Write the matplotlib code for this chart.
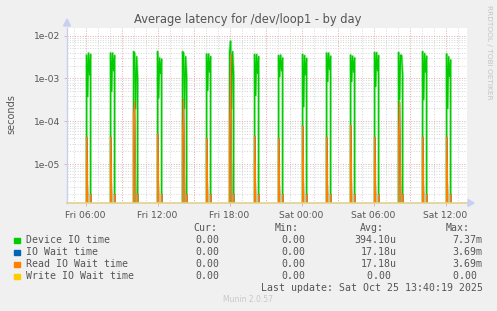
import matplotlib
matplotlib.use("Agg")
import matplotlib.pyplot as plt
import numpy as np

# ---------------- data ----------------
# burst start times (hours since Fri 00:00), 5-minute samples
burst_starts = [4 + 20/60, 6 + 5/60, 8 + 5/60, 10.0, 12.0, 14 + 5/60, 16 + 5/60, 18.0,
                20 + 5/60, 22 + 5/60, 24 + 5/60, 26 + 5/60, 28 + 5/60, 30 + 5/60,
                32 + 5/60, 34 + 5/60, 36 + 5/60]
device_io = [
    [9e-5],
    [3.5e-3, 3.8e-4, 3.9e-3, 1.2e-3, 3.6e-3],
    [3.9e-3, 5.0e-4, 3.9e-3, 1.5e-3, 3.4e-3],
    [4.2e-3, 3.9e-3, 2.0e-4, 3.2e-3, 1.0e-3],
    [4.2e-3, 3.5e-4, 3.0e-3, 1.3e-3, 2.8e-3],
    [4.2e-3, 3.9e-3, 2.0e-4, 3.2e-3, 1.1e-3],
    [3.7e-3, 5.3e-4, 3.7e-3, 1.4e-3, 3.2e-3],
    [3.9e-3, 7.37e-3, 2.0e-4, 4.2e-3, 1.2e-3],
    [3.6e-3, 4.0e-4, 3.6e-3, 1.3e-3, 3.2e-3],
    [3.4e-3, 1.1e-3, 3.5e-3, 1.5e-3, 3.0e-3],
    [3.6e-3, 2.2e-4, 3.4e-3, 1.2e-3, 2.9e-3],
    [3.9e-3, 8.5e-4, 3.9e-3, 1.6e-3, 3.3e-3],
    [3.5e-3, 8.5e-4, 3.3e-3, 1.4e-3, 3.0e-3],
    [4.0e-3, 6.5e-4, 4.0e-3, 1.5e-3, 3.4e-3],
    [4.0e-3, 3.2e-4, 3.5e-3, 3.4e-3, 1.2e-3],
    [4.2e-3, 3.2e-4, 3.8e-3, 1.4e-3, 3.3e-3],
    [3.7e-3, 2.0e-4, 3.2e-3, 1.1e-3, 2.7e-3],
]
read_io_wait = [
    [1.2e-5],
    [4.3e-5, 2e-6, 0, 0, 2e-6],
    [4.3e-5, 2e-6, 0, 0, 2e-6],
    [1.5e-4, 2.9e-4, 2e-6, 0, 2e-6],
    [5.0e-5, 2e-6, 0, 0, 2e-6],
    [5.0e-5, 3.2e-4, 2e-6, 0, 2e-6],
    [4.0e-5, 2e-6, 0, 0, 2e-6],
    [4.5e-5, 3.69e-3, 2.7e-6, 0, 2e-6],
    [4.5e-5, 2e-6, 0, 0, 2e-6],
    [4.0e-5, 2e-6, 0, 0, 2e-6],
    [7.7e-5, 2e-6, 0, 0, 2e-6],
    [4.3e-5, 2e-6, 0, 0, 2e-6],
    [8.0e-5, 2e-6, 0, 0, 2e-6],
    [4.3e-5, 2e-6, 0, 0, 2e-6],
    [4.3e-5, 2.8e-4, 2e-6, 0, 2e-6],
    [4.3e-5, 2e-6, 0, 0, 2e-6],
    [4.3e-5, 2e-6, 0, 0, 2e-6],
]
io_wait = read_io_wait  # identical values
x_ticks = [6, 12, 18, 24, 30, 36]
x_labels = ["Fri 06:00", "Fri 12:00", "Fri 18:00", "Sat 00:00", "Sat 06:00", "Sat 12:00"]
y_ticks = [1e-2, 1e-3, 1e-4, 1e-5]
y_labels = ["1e-02", "1e-03", "1e-04", "1e-05"]

legend_names = ["Device IO time", "IO Wait time", "Read IO Wait time", "Write IO Wait time"]
legend_colors = ["#00CC00", "#0066B3", "#FF8000", "#FFCC00"]
cur_vals = ["0.00", "0.00", "0.00", "0.00"]
min_vals = ["0.00", "0.00", "0.00", "0.00"]
avg_vals = ["394.10u", "17.18u", "17.18u", "0.00 "]
max_vals = ["7.37m", "3.69m", "3.69m", "0.00 "]

XMIN, XMAX = 4 + 27/60, 37 + 47/60
STEP = 5 / 60


def series(bursts):
    t, v = [XMIN - 1.0], [0.0]
    for s, vals in zip(burst_starts, bursts):
        t.append(s - STEP); v.append(0.0)
        for k, val in enumerate(vals):
            t.append(s + k * STEP); v.append(val)
        t.append(s + len(vals) * STEP); v.append(0.0)
    t.append(XMAX + 1); v.append(0.0)
    return np.array(t), np.array(v)


W, H = 497, 311
fig = plt.figure(figsize=(W / 100, H / 100), dpi=100, facecolor="#F0F0F0")
L, R, T, B = 67, 467, 28, 203
ax = fig.add_axes([L / W, 1 - B / H, (R - L) / W, (B - T) / H])
ax.set_facecolor("white")
ax.set_yscale("log", nonpositive="clip")
ax.set_xlim(XMIN, XMAX)
ax.set_ylim(1.25e-6, 1.5e-2)

# grid
for hr in range(int(np.ceil(XMIN)), int(XMAX) + 1):
    major = hr % 3 == 0
    ax.axvline(hr, color="#E4A8A8" if major else "#D6D6D6", lw=0.7,
               ls=(0, (1, 1.6)), zorder=0.5)
for e in range(-6, -1):
    for k in range(1, 10):
        yv = k * 10.0 ** e
        if 1.25e-6 < yv < 1.5e-2:
            ax.axhline(yv, color="#E4A8A8" if k == 1 else "#D6D6D6", lw=0.7,
                       ls=(0, (1, 1.6)), zorder=0.5)

for data, col, halo in [(device_io, legend_colors[0], 0.35),
                        (io_wait, legend_colors[1], 0.0),
                        (read_io_wait, legend_colors[2], 0.18)]:
    tt, vv = series(data)
    if halo:
        ax.plot(tt, vv, color=col, lw=2.0, alpha=halo, zorder=1.5)
    ax.plot(tt, vv, color=col, lw=0.9, zorder=2)

for s in ["top", "right"]:
    ax.spines[s].set_visible(False)
ax.spines["left"].set_color("#C8CFF0")
ax.spines["bottom"].set_color("#E2D28A")
ax.spines["left"].set_linewidth(1.0)
ax.spines["bottom"].set_linewidth(1.2)

ax.set_xticks(x_ticks)
ax.set_xticklabels(x_labels)
ax.set_yticks(y_ticks)
ax.set_yticklabels(y_labels)
ax.minorticks_off()
ax.tick_params(axis="both", length=2, width=0.6, color="#E4A8A8", labelsize=6.6,
               labelcolor="#555555", pad=3)
ax.tick_params(axis="x", pad=3.5)

# arrows
fig.patches.append(matplotlib.patches.Polygon(
    [[(L - 3.5) / W, 1 - 26 / H], [(L + 3.5) / W, 1 - 26 / H], [L / W, 1 - 19 / H]],
    closed=True, transform=fig.transFigure, color="#C8CFF0"))
fig.patches.append(matplotlib.patches.Polygon(
    [[(R + 1) / W, 1 - (B - 3.5) / H], [(R + 1) / W, 1 - (B + 3.5) / H], [(R + 7) / W, 1 - B / H]],
    closed=True, transform=fig.transFigure, color="#C8CFF0"))


def ft(x, y, s, **kw):
    fig.text(x / W, 1 - y / H, s, **kw)


ft(248, 19, "Average latency for /dev/loop1 - by day", ha="center", va="center",
   fontsize=8.3, color="#555555")
ft(11, 114, "seconds", rotation=90, ha="center", va="center", fontsize=7, color="#555555")
ft(489, 5, "RRDTOOL / TOBI OETIKER", rotation=270, ha="center", va="top",
   fontsize=5.3, color="#C4C4C4")

mono = dict(family="DejaVu Sans Mono", fontsize=7.1, color="#555555", va="center")
ft(217.7, 228, "Cur:", ha="right", **mono)
ft(299, 228, "Min:", ha="right", **mono)
ft(384, 228, "Avg:", ha="right", **mono)
ft(470, 228, "Max:", ha="right", **mono)
for i, name in enumerate(legend_names):
    y = 240 + 12 * i
    fig.patches.append(matplotlib.patches.Rectangle(
        (14 / W, 1 - (y + 3) / H), 5.5 / W, 5.5 / H, transform=fig.transFigure,
        color=legend_colors[i]))
    ft(26, y, name, ha="left", **mono)
    ft(219.3, y, cur_vals[i], ha="right", **mono)
    ft(305.7, y, min_vals[i], ha="right", **mono)
    ft(396.7, y, avg_vals[i], ha="right", **mono)
    ft(482.7, y, max_vals[i], ha="right", **mono)
ft(482.7, 288, "Last update: Sat Oct 25 13:40:19 2025", ha="right", **mono)
ft(248, 300, "Munin 2.0.57", ha="center", va="center", fontsize=5.5, color="#C8C8C8")

fig.savefig("out.png", dpi=100, facecolor=fig.get_facecolor())
